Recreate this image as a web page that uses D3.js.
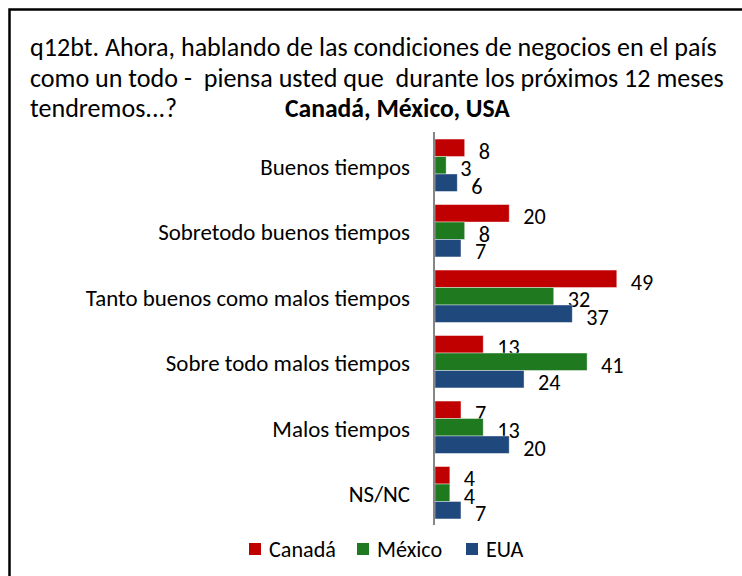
<!DOCTYPE html>
<html>
<head>
<meta charset="utf-8">
<script src="https://cdn.jsdelivr.net/npm/d3@7"></script>
<style>
  html, body { margin: 0; padding: 0; background: #fff; }
  svg text { white-space: pre; }
</style>
</head>
<body>
<svg id="chart" width="742" height="576"></svg>
<script>
// data
const categories = [
  "Buenos tiempos",
  "Sobretodo buenos tiempos",
  "Tanto buenos como malos tiempos",
  "Sobre todo malos tiempos",
  "Malos tiempos",
  "NS/NC"
];
const canada = [8, 20, 49, 13, 7, 4];
const mexico = [3, 8, 32, 41, 13, 4];
const eua = [6, 7, 37, 24, 20, 7];
const seriesNames = ["Canadá", "México", "EUA"];
const titleLines = [
  "q12bt. Ahora, hablando de las condiciones de negocios en el país",
  "como un todo -  piensa usted que  durante los próximos 12 meses",
  "tendremos...?"
];
const subtitle = "Canadá, México, USA";

const colors = ["#c00000", "#1f7a1f", "#1f497d"];
const FONT = "Carlito, 'Liberation Sans Narrow', 'Open Sans', sans-serif";

const svg = d3.select("#chart");
svg.append("rect").attr("width", 742).attr("height", 576).attr("fill", "#fff");

// measure text so the substitute font fills the same width as the original
function fitSize(str, target, weight) {
  const t = svg.append("text")
    .style("font-family", FONT)
    .style("font-weight", weight || "normal")
    .style("font-size", "100px")
    .text(str);
  const w = t.node().getComputedTextLength();
  t.remove();
  return 100 * target / w;
}

const titleSize = fitSize(titleLines[0], 687);
const boldSize = fitSize(subtitle, 225, "bold");
const catSize = fitSize("Sobretodo buenos tiempos", 252);
const valSize = fitSize("49", 22.5);
const legSize = fitSize("Canadá", 67);

// frame (only left and top edges are visible)
svg.append("path")
  .attr("d", "M9.5,576 V9.5 H742")
  .attr("fill", "none")
  .attr("stroke", "#000")
  .attr("stroke-width", 2.5);

// title
svg.selectAll(".title")
  .data(titleLines)
  .enter()
  .append("text")
  .attr("class", "title")
  .attr("x", 30)
  .attr("y", (d, i) => 56 + i * 30.5)
  .style("font-family", FONT)
  .style("font-size", titleSize + "px")
  .attr("fill", "#000")
  .text(d => d);

svg.append("text")
  .attr("x", 285)
  .attr("y", 117)
  .style("font-family", FONT)
  .style("font-weight", "bold")
  .style("font-size", boldSize + "px")
  .attr("fill", "#000")
  .text(subtitle);

// scales
const y = d3.scaleBand()
  .domain(categories)
  .range([132.5, 525.5])
  .paddingInner(0.2)
  .paddingOuter(0.1);

const sub = d3.scaleBand()
  .domain(seriesNames)
  .range([0, y.bandwidth()]);

const x = d3.scaleLinear()
  .domain([0, 60])
  .range([435, 657.6]);

const series = [canada, mexico, eua];

// bars
series.forEach((vals, s) => {
  const g = svg.append("g");
  g.selectAll("rect")
    .data(vals)
    .enter()
    .append("rect")
    .attr("x", x(0))
    .attr("y", (d, i) => y(categories[i]) + sub(seriesNames[s]))
    .attr("width", d => x(d) - x(0))
    .attr("height", sub.bandwidth())
    .attr("fill", colors[s])
    .attr("stroke", "#fff")
    .attr("stroke-opacity", 0.5)
    .attr("stroke-width", 0.8);

  g.selectAll("text")
    .data(vals)
    .enter()
    .append("text")
    .attr("x", d => x(d) + 14)
    .attr("y", (d, i) => y(categories[i]) + sub(seriesNames[s]) + sub.bandwidth() / 2 + 3.5)
    .attr("dominant-baseline", "central")
    .style("font-family", FONT)
    .style("font-size", valSize + "px")
    .attr("fill", "#000")
    .text(d => d);
});

// vertical axis line
svg.append("line")
  .attr("x1", 434).attr("x2", 434)
  .attr("y1", 132).attr("y2", 525)
  .attr("stroke", "#868686")
  .attr("stroke-width", 2);

// category labels
svg.selectAll(".cat")
  .data(categories)
  .enter()
  .append("text")
  .attr("class", "cat")
  .attr("x", 410)
  .attr("y", d => y(d) + y.bandwidth() / 2 + 1.5)
  .attr("text-anchor", "end")
  .attr("dominant-baseline", "central")
  .style("font-family", FONT)
  .style("font-size", catSize + "px")
  .attr("fill", "#000")
  .text(d => d);

// legend
const legX = [249, 357, 466];
const leg = svg.selectAll(".leg")
  .data(seriesNames)
  .enter()
  .append("g")
  .attr("class", "leg")
  .attr("transform", (d, i) => `translate(${legX[i]},543)`);

leg.append("rect")
  .attr("width", 12)
  .attr("height", 12)
  .attr("fill", (d, i) => colors[i]);

leg.append("text")
  .attr("x", 20)
  .attr("y", 6.5)
  .attr("dominant-baseline", "central")
  .style("font-family", FONT)
  .style("font-size", legSize + "px")
  .attr("fill", "#000")
  .text(d => d);
</script>
</body>
</html>
